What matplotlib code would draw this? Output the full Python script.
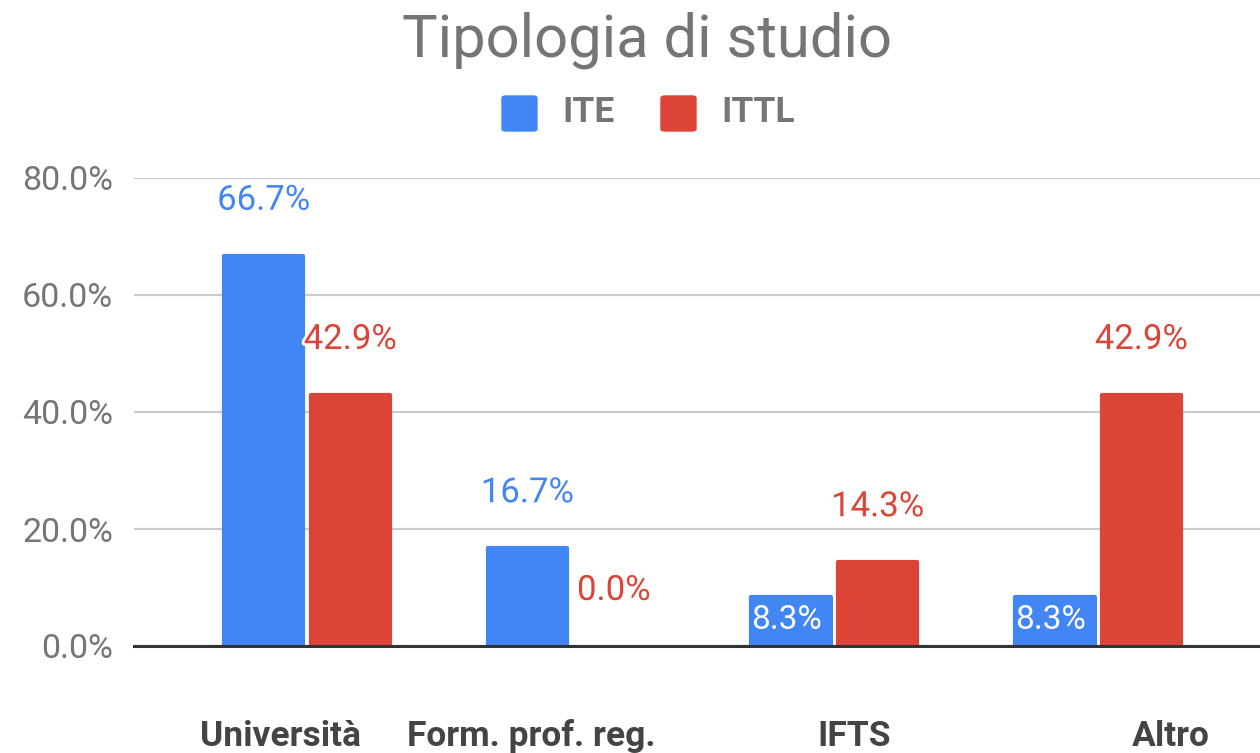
import matplotlib
matplotlib.use("Agg")
import matplotlib.pyplot as plt
import matplotlib.patheffects as pe
from matplotlib.patches import FancyBboxPatch

categories = ["Università", "Form. prof. reg.", "IFTS", "Altro"]
series_names = ["ITE", "ITTL"]
ite = [66.7, 16.7, 8.3, 8.3]
ittl = [42.9, 0.0, 14.3, 42.9]
yticks = [0, 20, 40, 60, 80]
ytick_labels = ["0.0%", "20.0%", "40.0%", "60.0%", "80.0%"]

BLUE = "#4285F4"
RED = "#DB4437"
GRAY = "#757575"
FONT = "Roboto"

W, H = 1260, 753
fig = plt.figure(figsize=(W / 100, H / 100), dpi=100)
ax = fig.add_axes([134 / W, 1 - 646 / H, 1 - 134 / W, (646 - 178) / H])

x = list(range(len(categories)))
bw = 0.301
off = 0.164
ax.set_xlim(-0.656, 3.614)
ax.set_ylim(0, 80)

b1 = ax.bar([i - off for i in x], ite, width=bw, color=BLUE, edgecolor=BLUE,
            linewidth=3, joinstyle="round", zorder=3)
b2 = ax.bar([i + off for i in x], ittl, width=bw, color=RED, edgecolor=RED,
            linewidth=3, joinstyle="round", zorder=3)
for b in list(b1) + list(b2):
    if b.get_height() == 0:
        b.set_visible(False)

ax.set_yticks(yticks)
ax.set_yticklabels(ytick_labels, fontsize=24.5, color=GRAY, family=FONT)
ax.tick_params(axis="y", length=0, pad=15)
ax.tick_params(axis="x", length=0)
ax.set_xticks([])
ax.grid(axis="y", color="#CCCCCC", linewidth=1.6, zorder=0)
for s in ["top", "right", "left"]:
    ax.spines[s].set_visible(False)
ax.spines["bottom"].set_color("#333333")
ax.spines["bottom"].set_linewidth(2.2)
ax.spines["bottom"].set_zorder(4)

stroke = [pe.withStroke(linewidth=4, foreground="white")]
for si, (vals, col, bars) in enumerate([(ite, BLUE, b1), (ittl, RED, b2)]):
    for ci, v in enumerate(vals):
        bar = bars[ci]
        cx = bar.get_x() + bar.get_width() / 2
        txt = f"{v:.1f}%"
        if 0 < v < 10:
            ax.annotate(txt, (cx - 0.018, v), xytext=(0, -16), textcoords="offset points",
                        ha="center", va="center", color="white", fontsize=24,
                        family=FONT, zorder=5)
        else:
            ax.annotate(txt, (cx, v), xytext=(0, 40), textcoords="offset points",
                        ha="center", va="center", color=col, fontsize=25,
                        family=FONT, zorder=5, path_effects=stroke)

# category labels
label_pos = [-0.102, 0.849, 2.074, 3.276]
for p, c in zip(label_pos, categories):
    ax.text(p, -(746 - 646) / (646 - 178), c, transform=ax.get_xaxis_transform(),
            ha="center", va="baseline", fontsize=25.5, fontweight="bold",
            color="#444444", family=FONT)

# title
fig.text(647 / W, 1 - 40 / H, "Tipologia di studio", ha="center", va="center",
         fontsize=43, color=GRAY, family=FONT)

# legend
for (x0, name, col) in [(502, series_names[0], BLUE), (661, series_names[1], RED)]:
    fig.patches.append(FancyBboxPatch((x0 / W, 1 - 131 / H), 35 / W, 35 / H,
                                      boxstyle="round,pad=0,rounding_size=0.003",
                                      transform=fig.transFigure, color=col))
    fig.text((x0 + 60) / W, 1 - 112 / H, name, ha="left", va="center",
             fontsize=25.5, fontweight="bold", color=GRAY, family=FONT)

fig.savefig("out.png", dpi=100)
